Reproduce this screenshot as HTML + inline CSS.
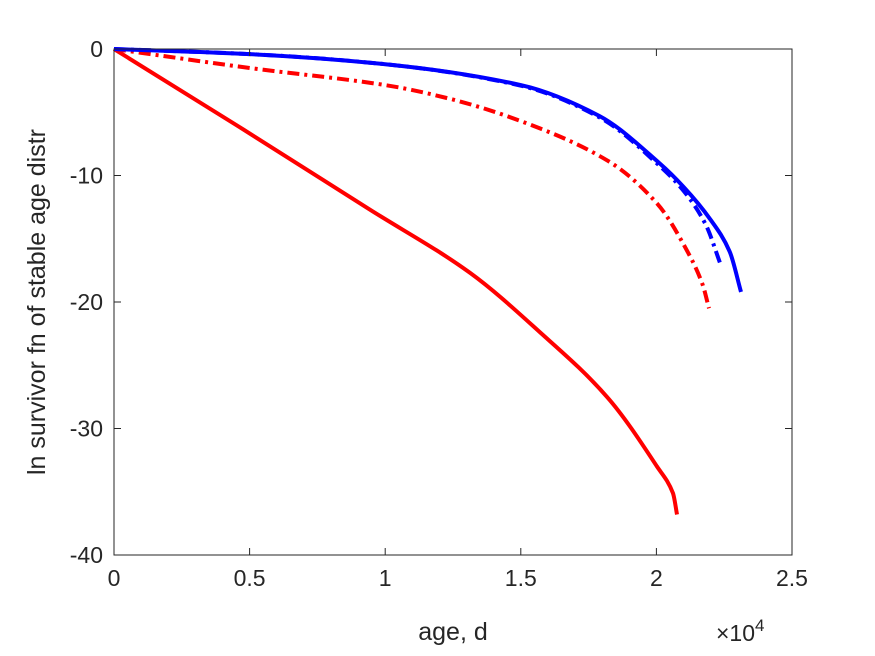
<!DOCTYPE html>
<html><head><meta charset="utf-8"><style>body{margin:0;background:#fff}svg{display:block;font-family:"Liberation Sans",sans-serif}</style></head>
<body>
<svg width="875" height="656" id="c">
<rect x="0" y="0" width="875" height="656" fill="#fff"/>
<g id="plot"></g>
<g id="axes"></g>
<text x="453" y="640" font-size="25" text-anchor="middle" fill="#262626">age, d</text>
<text transform="translate(45,302) rotate(-90)" font-size="25" text-anchor="middle" fill="#262626">ln survivor fn of stable age distr</text>
<text x="716" y="641" font-size="23" fill="#262626">×10<tspan dy="-10" font-size="17">4</tspan></text>
</svg>
<script>
const xTicks=[0,0.5,1,1.5,2,2.5];
const xTickLabels=["0","0.5","1","1.5","2","2.5"];
const yTicks=[-40,-30,-20,-10,0];
const yTickLabels=["-40","-30","-20","-10","0"];
const redSolidX=[0,0.465,0.944,1.313,1.571,1.818,2.002,2.061,2.076];
const redSolidY=[0,-6.2,-12.7,-17.7,-22.4,-27.5,-33.0,-35.1,-36.8];
const redDashX=[0,0.5,1.0,1.25,1.5,1.818,2.002,2.117,2.17,2.194];
const redDashY=[0,-1.5,-2.85,-4.0,-5.7,-8.8,-12.2,-16.1,-18.6,-20.5];
const blueSolidX=[0,0.5,1.0,1.5,1.79,2.01,2.1,2.2,2.27,2.312];
const blueSolidY=[0,-0.4,-1.2,-2.85,-5.3,-9.0,-10.9,-13.5,-16.0,-19.2];
const blueDashX=[0,0.5,1.0,1.5,1.79,2.01,2.1,2.18,2.238];
const blueDashY=[0,-0.4,-1.2,-2.9,-5.4,-9.2,-11.2,-13.8,-17.1];
const X0=114,X1=792,Y0=49,Y1=555;
const sx=v=>X0+(v-0)/(2.5-0)*(X1-X0);
const sy=v=>Y0+(0-v)/(0-(-40))*(Y1-Y0);
const NS="http://www.w3.org/2000/svg";
const plot=document.getElementById('plot'),axes=document.getElementById('axes');
function mk(t,a,p){const e=document.createElementNS(NS,t);for(const k in a)e.setAttribute(k,a[k]);p.appendChild(e);return e;}
function smoothPath(px,py){
  const n=px.length,d=[],m=[];
  for(let i=0;i<n-1;i++)d.push((py[i+1]-py[i])/(px[i+1]-px[i]));
  m[0]=d[0];m[n-1]=d[n-2];
  for(let i=1;i<n-1;i++)m[i]=(d[i-1]*d[i]<=0)?0:2/(1/d[i-1]+1/d[i]);
  let s='M'+px[0].toFixed(1)+','+py[0].toFixed(1);
  for(let i=0;i<n-1;i++){
    const h=px[i+1]-px[i];
    s+=' C'+(px[i]+h/3).toFixed(1)+','+(py[i]+m[i]*h/3).toFixed(1)+' '+(px[i+1]-h/3).toFixed(1)+','+(py[i+1]-m[i+1]*h/3).toFixed(1)+' '+px[i+1].toFixed(1)+','+py[i+1].toFixed(1);
  }
  return s;
}
function line(xs,ys,color,dash,name){
  const d=smoothPath(xs.map(sx),ys.map(sy));
  const p=mk('path',{d:d,fill:'none',stroke:color,'stroke-width':4,'stroke-linejoin':'round'},plot);
  if(dash)p.setAttribute('stroke-dasharray',dash);
  
  
}
line(redSolidX,redSolidY,'#ff0000',null,'red-solid-line');
line(redDashX,redDashY,'#ff0000','12,5,3,5','red-dashdot-line');
line(blueSolidX,blueSolidY,'#0000ff',null,'blue-solid-line');
line(blueDashX,blueDashY,'#0000ff','12,5,3,5','blue-dashdot-line');
const box=mk('rect',{x:X0,y:Y0,width:X1-X0,height:Y1-Y0,fill:'none',stroke:'#262626','stroke-width':1},axes);


xTicks.forEach((t,i)=>{
  const x=sx(t);
  mk('line',{x1:x,x2:x,y1:Y1,y2:Y1-7,stroke:'#262626'},axes);
  mk('line',{x1:x,x2:x,y1:Y0,y2:Y0+7,stroke:'#262626'},axes);
  const tx=mk('text',{x:x,y:Y1+31,'font-size':23,'text-anchor':'middle',fill:'#262626'},axes);
  tx.textContent=xTickLabels[i];
  
  
});
yTicks.forEach((t,i)=>{
  const y=sy(t);
  mk('line',{x1:X0,x2:X0+7,y1:y,y2:y,stroke:'#262626'},axes);
  mk('line',{x1:X1,x2:X1-7,y1:y,y2:y,stroke:'#262626'},axes);
  const tx=mk('text',{x:X0-11,y:y+8,'font-size':23,'text-anchor':'end',fill:'#262626'},axes);
  tx.textContent=yTickLabels[i];
  
  
});
</script>
</body></html>
